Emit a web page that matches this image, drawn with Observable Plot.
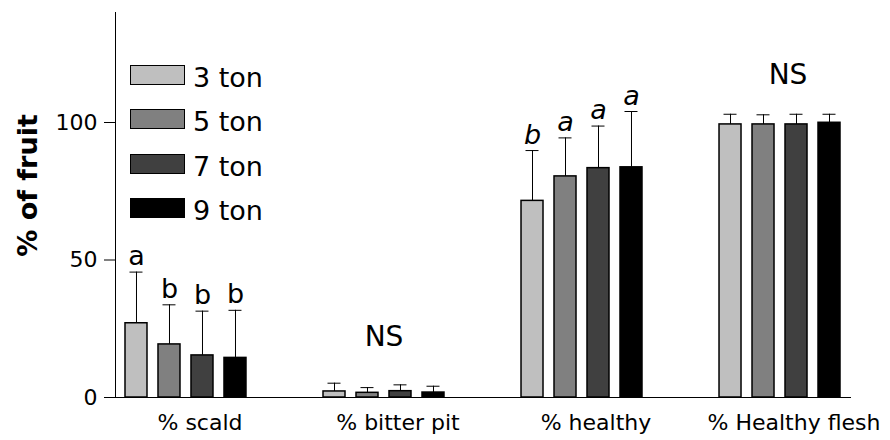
<!DOCTYPE html>
<html>
<head>
<meta charset="utf-8">
<script src="https://cdn.jsdelivr.net/npm/d3@7"></script>
<script src="https://cdn.jsdelivr.net/npm/@observablehq/plot@0.6"></script>
<style>
  html, body { margin: 0; padding: 0; background: #fff; }
  #wrap { position: relative; width: 890px; height: 440px; font-family: "DejaVu Sans", sans-serif; }
  #legend { position: absolute; left: 130px; top: 65px; }
  .item { display: flex; align-items: flex-start; height: 21px; margin-bottom: 23.3px; }
  .sw { width: 53px; height: 18px; border: 1.5px solid #000; }
  .lab { font-size: 27px; line-height: 21px; margin-left: 8px; position: relative; top: 2px; color: #000; }
</style>
</head>
<body>
<div id="wrap"><div id="legend"></div></div>
<script>
// ---- data ----
const groups = ["% scald", "% bitter pit", "% healthy", "% Healthy flesh"];
const tons = ["3 ton", "5 ton", "7 ton", "9 ton"];
const scaldMean = [27.0, 19.3, 15.3, 14.4];
const scaldUpper = [45.6, 33.7, 31.4, 31.7];
const bitterMean = [2.2, 1.7, 2.3, 1.8];
const bitterUpper = [5.2, 3.6, 4.6, 4.1];
const healthyMean = [71.5, 80.4, 83.4, 83.7];
const healthyUpper = [89.8, 94.4, 98.7, 104.0];
const fleshMean = [99.3, 99.3, 99.3, 99.9];
const fleshUpper = [103.0, 102.8, 103.0, 103.0];
const scaldLetters = ["a", "b", "b", "b"];
const healthyLetters = ["b", "a", "a", "a"];
const nsGroups = ["% bitter pit", "% Healthy flesh"];
const nsY = [18.6, 114];
const yTicks = [0, 50, 100];
const yLabel = "% of fruit";
const colors = ["#bfbfbf", "#808080", "#404040", "#000000"];

// ---- table built from the arrays ----
const meansByGroup = [scaldMean, bitterMean, healthyMean, fleshMean];
const upperByGroup = [scaldUpper, bitterUpper, healthyUpper, fleshUpper];
const rows = [];
groups.forEach((g, gi) => tons.forEach((t, ti) => rows.push({
  group: g, ton: t, mean: meansByGroup[gi][ti], upper: upperByGroup[gi][ti]
})));
const scaldRows = tons.map((t, i) => ({group: groups[0], ton: t, upper: scaldUpper[i], letter: scaldLetters[i]}));
const healthyRows = tons.map((t, i) => ({group: groups[2], ton: t, upper: healthyUpper[i], letter: healthyLetters[i]}));
const nsRows = nsGroups.map((g, i) => ({group: g, y: nsY[i], text: "NS"}));

const chart = Plot.plot({
  width: 890,
  height: 440,
  marginLeft: 115,
  marginRight: 0,
  marginTop: 12,
  marginBottom: 43,
  style: {fontFamily: "DejaVu Sans, sans-serif", background: "white", color: "black"},
  fx: {domain: groups, paddingInner: 0.288, paddingOuter: 0.101, align: 0, round: false},
  x: {domain: tons, paddingInner: 1/3, paddingOuter: 0.303, round: false, axis: null},
  y: {domain: [0, 140]},
  color: {domain: tons, range: colors},
  marks: [
    Plot.barY(rows, {fx: "group", x: "ton", y: "mean", fill: "ton", stroke: "black", strokeWidth: 1.5}),
    Plot.ruleX(rows, {fx: "group", x: "ton", y1: "mean", y2: "upper", stroke: "black", strokeWidth: 1}),
    Plot.tickY(rows, {fx: "group", x: "ton", y: "upper", stroke: "black", strokeWidth: 1, insetLeft: 4.5, insetRight: 4.5}),
    Plot.text(scaldRows, {fx: "group", x: "ton", y: "upper", text: "letter", dy: -7, lineAnchor: "bottom", fontSize: 27, fill: "black"}),
    Plot.text(healthyRows, {fx: "group", x: "ton", y: "upper", text: "letter", dy: -7, lineAnchor: "bottom", fontSize: 27, fontStyle: "italic", fill: "black"}),
    Plot.text(nsRows.slice(0, 1), {fx: "group", y: "y", text: "text", lineAnchor: "bottom", fontSize: 28, fill: "black"}),
    Plot.text(nsRows.slice(1), {fx: "group", y: "y", text: "text", dx: 8, lineAnchor: "bottom", fontSize: 28, fill: "black"}),
    Plot.axisY({ticks: yTicks, tickSize: 11, tickPadding: 7, fontSize: 22, label: null, stroke: "black"}),
    Plot.axisFx({anchor: "bottom", tickSize: 0, tickPadding: 17, fontSize: 22, dx: 14, label: null}),
    Plot.frame({anchor: "left", facet: "super", stroke: "black"}),
    Plot.frame({anchor: "bottom", facet: "super", stroke: "black"}),
    Plot.text([yLabel], {text: d => d, frameAnchor: "left", facet: "super", textAnchor: "middle", lineAnchor: "middle", rotate: -90, dx: -87, dy: -19.5, fontSize: 27, fontWeight: "bold", fill: "black"})
  ]
});
const wrap = document.getElementById("wrap");
wrap.insertBefore(chart, wrap.firstChild);

// legend (HTML), using the same colour scale
const color = chart.scale("color");
const legend = document.getElementById("legend");
tons.forEach(t => {
  const item = document.createElement("div");
  item.className = "item";
  const sw = document.createElement("div");
  sw.className = "sw";
  sw.style.background = colors[color.domain.indexOf(t)];
  const lab = document.createElement("div");
  lab.className = "lab";
  lab.textContent = t;
  item.appendChild(sw);
  item.appendChild(lab);
  legend.appendChild(item);
});
</script>
</body>
</html>
